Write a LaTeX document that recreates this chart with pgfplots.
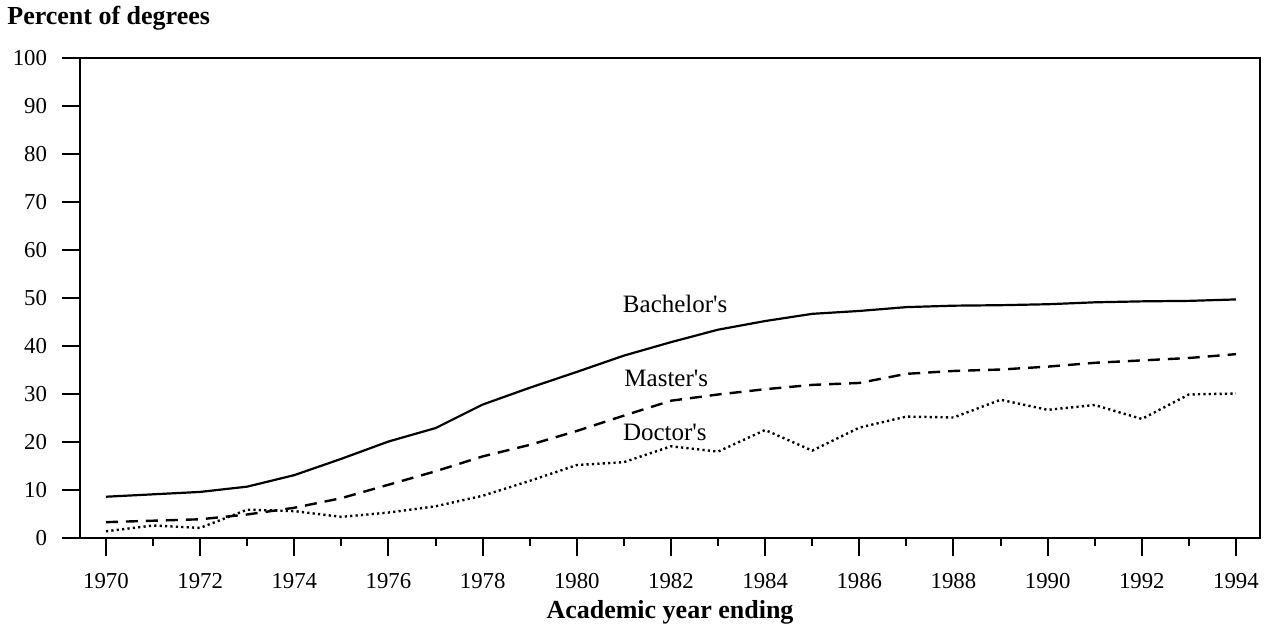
\documentclass[border=0pt]{standalone}
\usepackage{fontspec}
\setmainfont{Liberation Serif}
\newfontfamily\labfont{Liberation Serif}
\usepackage{pgfplots}
\pgfplotsset{compat=1.18}
\begin{document}
\begin{tikzpicture}
\useasboundingbox (-40pt,-44.5pt) rectangle (595pt,269pt);
\begin{axis}[
  at={(0,0)}, anchor=south west,
  scale only axis,
  width=590pt, height=240pt,
  xmin=1969.448, xmax=1994.51,
  ymin=0, ymax=100,
  xtick={1970,1972,...,1994},
  minor xtick={1971,1973,...,1993},
  ytick={0,10,...,100},
  tick align=outside,
  xtick pos=bottom, ytick pos=left,
  major tick length=9pt,
  minor tick length=4pt,
  every tick/.style={black, line width=1pt},
  axis line style={line width=1.2pt},
  /pgf/number format/1000 sep={},
  /pgf/number format/assume math mode=true,
  tick label style={font=\fontsize{11.4}{13}\selectfont},
  xticklabel style={yshift=-5pt},
  yticklabel style={xshift=-4pt},
  xlabel={\textbf{Academic year ending}},
  xlabel style={at={(axis description cs:0.5,0)}, anchor=center, yshift=-37pt, font=\fontsize{13}{15}\selectfont},
  clip=false,
]
\addplot[black, line width=1.1pt] coordinates {
(1970,8.6) (1971,9.1) (1972,9.6) (1973,10.7) (1974,13.1) (1975,16.5)
(1976,20.1) (1977,22.9) (1978,27.8) (1979,31.3) (1980,34.6) (1981,38.0)
(1982,40.8) (1983,43.4) (1984,45.2) (1985,46.7) (1986,47.3) (1987,48.1)
(1988,48.4) (1989,48.5) (1990,48.7) (1991,49.1) (1992,49.3) (1993,49.4) (1994,49.7)
};
\addplot[black, line width=1.2pt, dash pattern=on 6pt off 4pt] coordinates {
(1970,3.3) (1971,3.6) (1972,3.9) (1973,4.9) (1974,6.3) (1975,8.3)
(1976,11.1) (1977,13.9) (1978,17.0) (1979,19.4) (1980,22.3) (1981,25.5)
(1982,28.6) (1983,29.9) (1984,31.0) (1985,31.9) (1986,32.3) (1987,34.2)
(1988,34.8) (1989,35.1) (1990,35.7) (1991,36.5) (1992,37.0) (1993,37.5) (1994,38.3)
};
\addplot[black, line width=1.2pt, dash pattern=on 1.1pt off 1.6pt] coordinates {
(1970,1.4) (1971,2.6) (1972,2.1) (1973,5.9) (1974,5.6) (1975,4.4)
(1976,5.3) (1977,6.6) (1978,8.8) (1979,11.9) (1980,15.2) (1981,15.8)
(1982,19.1) (1983,18.0) (1984,22.5) (1985,18.2) (1986,23.0) (1987,25.3)
(1988,25.1) (1989,28.8) (1990,26.7) (1991,27.7) (1992,24.8) (1993,29.9) (1994,30.1)
};
\node[font=\labfont\fontsize{12.5}{14}\selectfont] at (axis cs:1982.09,48.75) {Bachelor's};
\node[font=\labfont\fontsize{12.5}{14}\selectfont] at (axis cs:1981.9,33.3) {Master's};
\node[font=\labfont\fontsize{12.5}{14}\selectfont] at (axis cs:1981.87,21.9) {Doctor's};
\node[anchor=base west, font=\fontsize{13}{15}\selectfont\bfseries, inner sep=0pt] at (rel axis cs:0,1) [xshift=-36.5pt, yshift=16.5pt] {Percent of degrees};
\end{axis}
\end{tikzpicture}
\end{document}
